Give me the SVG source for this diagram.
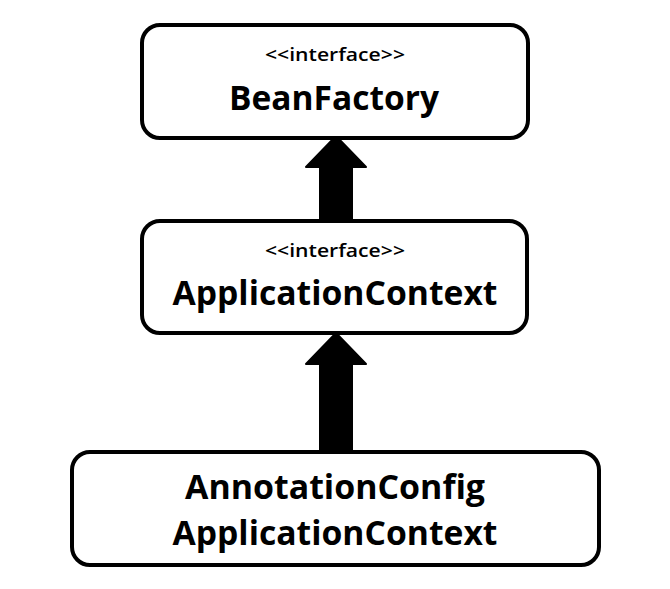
<svg xmlns="http://www.w3.org/2000/svg" width="670" height="589" viewBox="0 0 670 589">
<style>
.box{fill:#fff;stroke:#000;stroke-width:4}
.st{font-family:"Open Sans","Noto Sans",sans-serif;font-weight:600;font-size:18px;text-anchor:middle;fill:#000}
.nm{font-family:"Open Sans","Noto Sans",sans-serif;font-weight:bold;font-size:34px;text-anchor:middle;fill:#000}
.arr{fill:#000;stroke:#000;stroke-width:2;stroke-linejoin:round}
</style>
<rect width="670" height="589" fill="#fff"/>
<g id="connectors">
<path class="arr" d="M320,221 L320,167 L306,167 L336,136 L366,167 L352,167 L352,221 Z"/>
<path class="arr" d="M320,452 L320,364 L306,364 L336,333 L366,364 L352,364 L352,452 Z"/>
</g>
<g id="BeanFactory">
<rect class="box" x="142" y="25" width="386" height="113" rx="18"/>
<text class="st" x="335" y="61" textLength="140" lengthAdjust="spacingAndGlyphs">&lt;&lt;interface&gt;&gt;</text>
<text class="nm" x="334" y="110" textLength="210" lengthAdjust="spacingAndGlyphs">BeanFactory</text>
</g>
<g id="ApplicationContext">
<rect class="box" x="142" y="221" width="385" height="112" rx="18"/>
<text class="st" x="335" y="257" textLength="140" lengthAdjust="spacingAndGlyphs">&lt;&lt;interface&gt;&gt;</text>
<text class="nm" x="335" y="305" textLength="325" lengthAdjust="spacingAndGlyphs">ApplicationContext</text>
</g>
<g id="AnnotationConfigApplicationContext">
<rect class="box" x="72" y="452" width="527" height="113" rx="18"/>
<text class="nm" x="335" y="499" textLength="300" lengthAdjust="spacingAndGlyphs">AnnotationConfig</text>
<text class="nm" x="335" y="545" textLength="325" lengthAdjust="spacingAndGlyphs">ApplicationContext</text>
</g>
</svg>
